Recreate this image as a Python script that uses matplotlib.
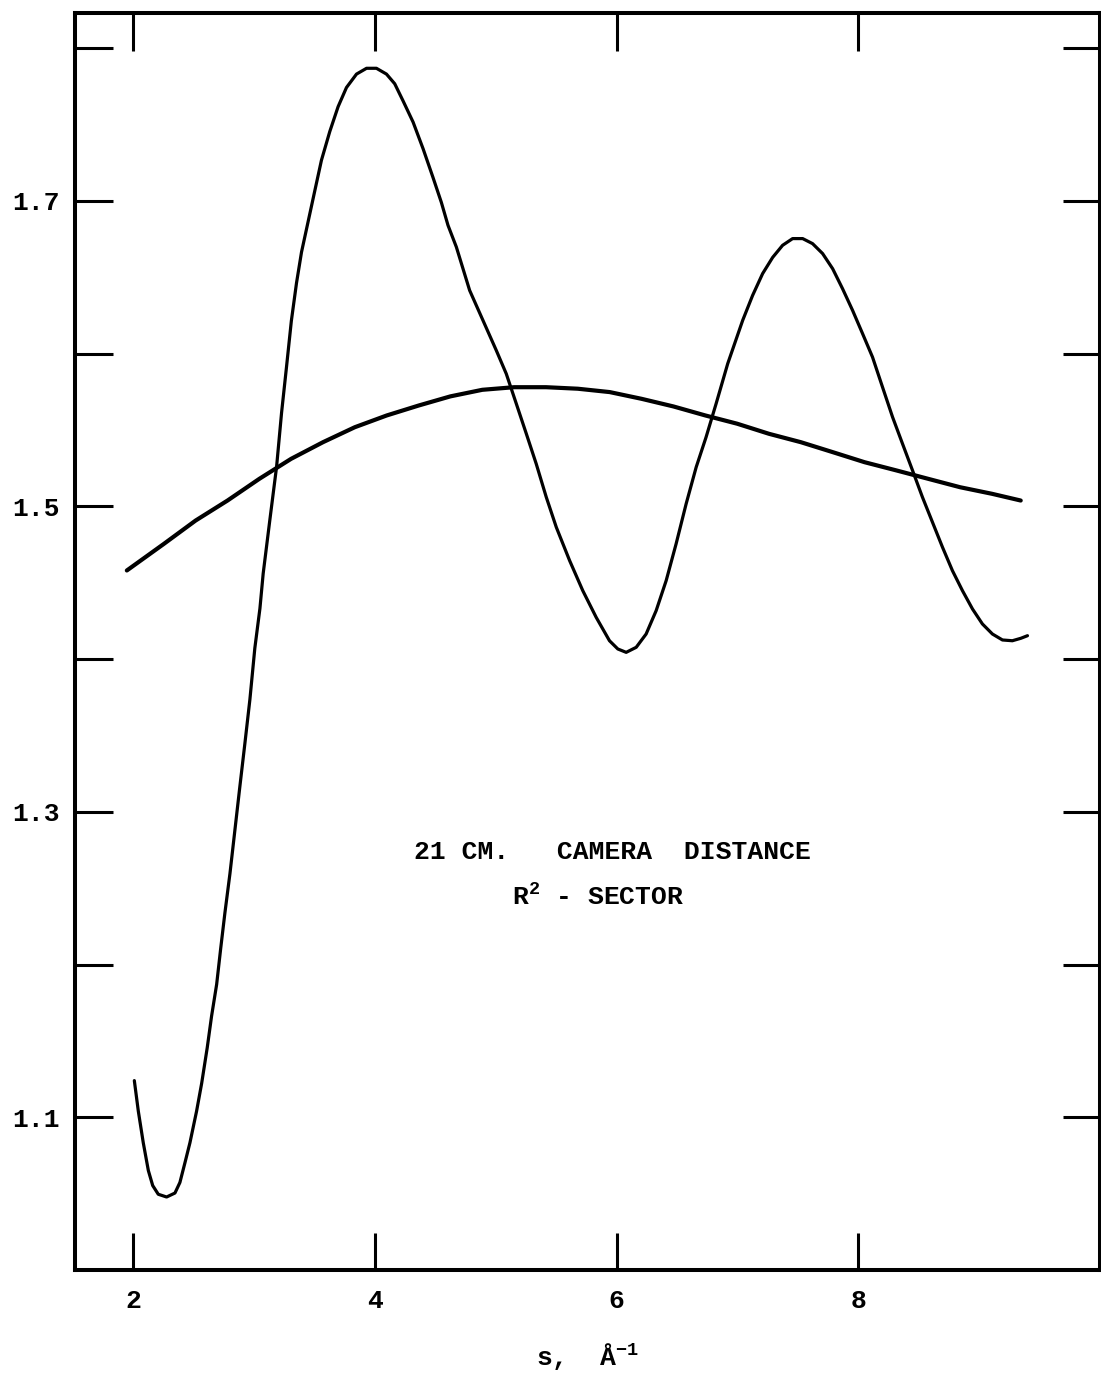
import numpy as np
import matplotlib
matplotlib.use('Agg')
import matplotlib.pyplot as plt

# DATA
s_osc = [2.011, 2.044, 2.085, 2.127, 2.163, 2.209, 2.278, 2.347, 2.388, 2.43, 2.471,
         2.526, 2.568, 2.614, 2.65, 2.692, 2.725, 2.76, 2.802, 2.843, 2.884, 2.926,
         2.967, 3.008, 3.05, 3.077, 3.132, 3.188, 3.229, 3.27, 3.31, 3.353, 3.394,
         3.449, 3.504, 3.559, 3.628, 3.697, 3.766, 3.849, 3.932, 4.014, 4.097, 4.165,
         4.234, 4.317, 4.4, 4.482, 4.551, 4.606, 4.675, 4.785, 4.895, 5.006, 5.088,
         5.171, 5.254, 5.336, 5.419, 5.502, 5.612, 5.721, 5.832, 5.942, 6.011, 6.08,
         6.163, 6.245, 6.328, 6.411, 6.493, 6.576, 6.659, 6.741, 6.824, 6.92, 7.044,
         7.126, 7.209, 7.292, 7.374, 7.457, 7.54, 7.622, 7.705, 7.788, 7.87, 7.953,
         8.036, 8.118, 8.201, 8.284, 8.366, 8.449, 8.531, 8.614, 8.697, 8.779, 8.862,
         8.945, 9.027, 9.11, 9.193, 9.275, 9.345, 9.40]
v_osc = [1.124, 1.104, 1.0833, 1.0651, 1.0553, 1.0496, 1.0478, 1.0504, 1.0573, 1.0703,
         1.0833, 1.104, 1.1222, 1.1455, 1.1662, 1.187, 1.2102, 1.2336, 1.2595, 1.288,
         1.3165, 1.345, 1.3735, 1.4072, 1.4331, 1.456, 1.491, 1.526, 1.5612, 1.5913,
         1.6214, 1.6464, 1.6664, 1.6865, 1.7066, 1.7266, 1.7454, 1.7617, 1.7742, 1.783,
         1.7868, 1.7868, 1.783, 1.7767, 1.7655, 1.7516, 1.7341, 1.7153, 1.699, 1.684,
         1.6698, 1.6414, 1.6218, 1.602, 1.5868, 1.5672, 1.5475, 1.5278, 1.506, 1.4863,
         1.4645, 1.4448, 1.4273, 1.412, 1.4066, 1.4044, 1.4077, 1.4164, 1.4317, 1.4514,
         1.4754, 1.5016, 1.5256, 1.5453, 1.5672, 1.5934, 1.6218, 1.6381, 1.6524, 1.663,
         1.6709, 1.6753, 1.6753, 1.672, 1.6655, 1.6556, 1.6425, 1.6283, 1.613, 1.5977,
         1.578, 1.5584, 1.541, 1.5235, 1.506, 1.4896, 1.4732, 1.4579, 1.4448, 1.4328,
         1.423, 1.4164, 1.4125, 1.412, 1.4136, 1.4153]

s_smooth = [1.949, 2.255, 2.518, 2.782, 3.045, 3.308, 3.572, 3.835, 4.099, 4.363, 4.626,
            4.89, 5.153, 5.417, 5.68, 5.944, 6.207, 6.471, 6.735, 6.998, 7.261, 7.525,
            7.788, 8.052, 8.316, 8.579, 8.843, 9.107, 9.344]
v_smooth = [1.458, 1.4754, 1.4907, 1.5038, 1.518, 1.5311, 1.542, 1.5518, 1.5595, 1.566,
            1.572, 1.5763, 1.578, 1.578, 1.577, 1.5748, 1.5704, 1.5654, 1.5595, 1.5541,
            1.5475, 1.542, 1.5355, 1.5289, 1.5235, 1.518, 1.5125, 1.5082, 1.5038]

x_ticks = [2, 4, 6, 8]
x_labels = ['2', '4', '6', '8']
y_ticks = [1.1, 1.2, 1.3, 1.4, 1.5, 1.6, 1.7, 1.8]
y_labels = ['1.1', '', '1.3', '', '1.5', '', '1.7', '']

# STYLE
plt.rcParams['font.family'] = ['Liberation Mono', 'DejaVu Sans Mono']
plt.rcParams['font.weight'] = 'bold'
plt.rcParams['mathtext.default'] = 'regular'

fig = plt.figure(figsize=(11.01, 13.83), dpi=100)
ax = fig.add_axes([0.0681, 0.0817, 0.931, 0.9089])

ax.plot(s_osc, v_osc, color='black', lw=2.3, solid_capstyle='round',
        solid_joinstyle='round')
ax.plot(s_smooth, v_smooth, color='black', lw=3.0, solid_capstyle='round',
        solid_joinstyle='round')

ax.set_xlim(1.52, 10.0)
ax.set_ylim(1.0, 1.823)

ax.set_xticks(x_ticks)
ax.set_xticklabels(x_labels)
ax.set_yticks(y_ticks)
ax.set_yticklabels(y_labels)

ax.tick_params(direction='in', length=27, width=2.2, top=True, right=True,
               labelsize=19)
ax.tick_params(axis='x', pad=14)
ax.tick_params(axis='y', pad=11)
for sp in ax.spines.values():
    sp.set_linewidth(2.9)

ax.set_xlabel('s,  Å$^{-1}$', fontsize=19, fontweight='bold', labelpad=20)

# ANNOTATION
ax.text(5.97, 1.274, '21 CM.   CAMERA  DISTANCE', fontsize=19, ha='center', va='center')
ax.text(5.85, 1.244, 'R$^2$ - SECTOR', fontsize=19, ha='center', va='center')

fig.savefig('out.png', dpi=100)
